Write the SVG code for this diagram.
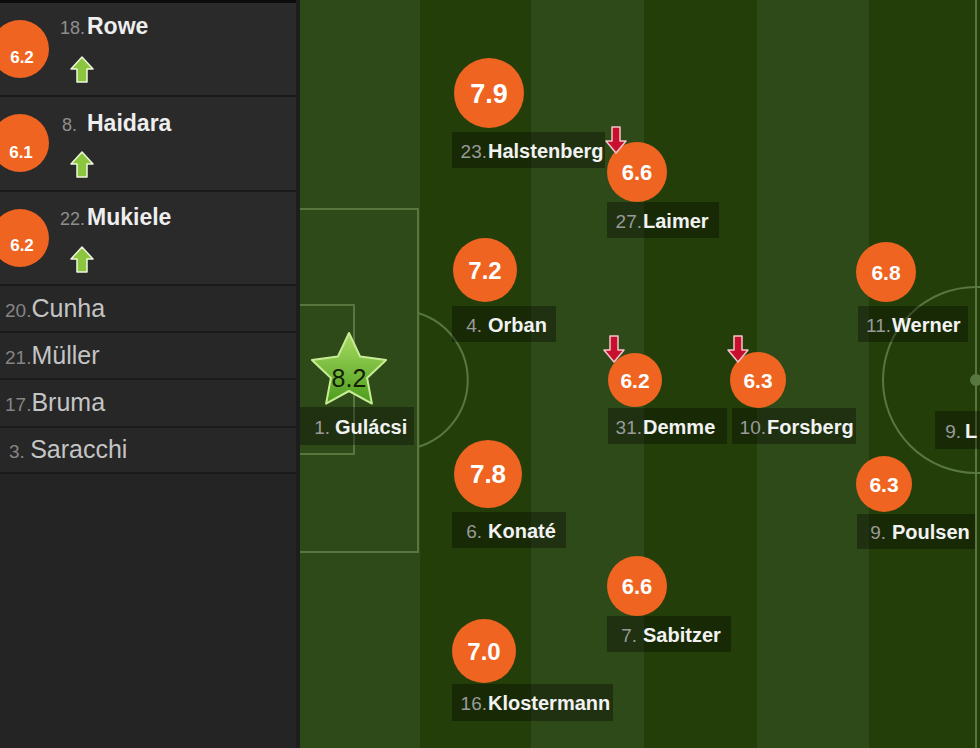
<svg xmlns="http://www.w3.org/2000/svg" width="980" height="748" viewBox="0 0 980 748">
<defs>
<style>
.lt{fill:#2f4a19}
.dk{fill:#243e0a}
.ln{fill:none;stroke:#58773f;stroke-width:2}
.rt{fill:#ee6420}
.rtx{font-family:"Liberation Sans",Arial,sans-serif;font-weight:bold;fill:#fff;text-anchor:middle}
.box{fill:#000;fill-opacity:0.33}
.num{font-family:"Liberation Sans",Arial,sans-serif;font-size:19px;fill:#9a9a9a;text-anchor:end}
.nm{font-family:"Liberation Sans",Arial,sans-serif;font-size:20px;font-weight:bold;fill:#f2f2f2}
.snum{font-family:"Liberation Sans",Arial,sans-serif;font-size:18px;fill:#8e8e8e;text-anchor:end}
.snm{font-family:"Liberation Sans",Arial,sans-serif;font-size:23px;font-weight:bold;fill:#eeeeee}
.bnum{font-family:"Liberation Sans",Arial,sans-serif;font-size:19px;fill:#858585}
.bnm{font-family:"Liberation Sans",Arial,sans-serif;font-size:25px;fill:#c4c4c4}
.sep{stroke:#1a1a1a;stroke-width:2}
.up{fill:#8cc63f;stroke:#eef7dd;stroke-width:1.5;stroke-linejoin:round}
.down{fill:#c8102e;stroke:#f3c6cc;stroke-width:1.5;stroke-linejoin:round}
</style>
<linearGradient id="starg" x1="0" y1="0" x2="0" y2="1">
<stop offset="0" stop-color="#a8dc62"/>
<stop offset="1" stop-color="#4c9c1c"/>
</linearGradient>
<path id="uparrow" d="M0,-13 L11,-1 L5,-1 L5,12 L-5,12 L-5,-1 L-11,-1 Z"/>
<path id="downarrow" d="M0,13 L10,1 L4,1 L4,-13 L-4,-13 L-4,1 L-10,1 Z"/>
</defs>

<!-- left panel -->
<g id="panel">
<rect x="0" y="0" width="300" height="748" fill="#242424"/>
<rect x="0" y="0" width="298" height="285" fill="#2a2a2a"/>
<rect x="0" y="285" width="298" height="188" fill="#272727"/>
<rect x="0" y="0" width="298" height="3" fill="#0c0c0c"/>
<line class="sep" x1="0" y1="96" x2="298" y2="96"/>
<line class="sep" x1="0" y1="191" x2="298" y2="191"/>
<line class="sep" x1="0" y1="285" x2="298" y2="285"/>
<line class="sep" x1="0" y1="332" x2="298" y2="332"/>
<line class="sep" x1="0" y1="379" x2="298" y2="379"/>
<line class="sep" x1="0" y1="427" x2="298" y2="427"/>
<line class="sep" x1="0" y1="473" x2="298" y2="473"/>
</g>

<g id="sub-rowe">
<circle class="rt" cx="20" cy="49" r="29"/>
<text class="rtx" x="22" y="63" font-size="17">6.2</text>
<text class="snum" x="85" y="34">18.</text>
<text class="snm" x="87" y="34">Rowe</text>
<use href="#uparrow" class="up" x="82" y="70"/>
</g>
<g id="sub-haidara">
<circle class="rt" cx="20" cy="143" r="29"/>
<text class="rtx" x="21" y="158" font-size="17">6.1</text>
<text class="snum" x="77" y="131">8.</text>
<text class="snm" x="87" y="131">Haidara</text>
<use href="#uparrow" class="up" x="82" y="165"/>
</g>
<g id="sub-mukiele">
<circle class="rt" cx="20" cy="238" r="29"/>
<text class="rtx" x="22" y="251" font-size="17">6.2</text>
<text class="snum" x="85" y="225">22.</text>
<text class="snm" x="87" y="225">Mukiele</text>
<use href="#uparrow" class="up" x="82" y="260"/>
</g>
<g id="bench-cunha"><text x="5" y="317"><tspan class="bnum">20.</tspan><tspan class="bnm">Cunha</tspan></text></g>
<g id="bench-muller"><text x="5" y="364"><tspan class="bnum">21.</tspan><tspan class="bnm">Müller</tspan></text></g>
<g id="bench-bruma"><text x="5" y="411"><tspan class="bnum">17.</tspan><tspan class="bnm">Bruma</tspan></text></g>
<g id="bench-saracchi"><text x="9" y="458"><tspan class="bnum">3. </tspan><tspan class="bnm">Saracchi</tspan></text></g>

<!-- pitch -->
<g id="pitch">
<rect class="lt" x="300" y="0" width="120" height="748"/>
<rect class="dk" x="420" y="0" width="111" height="748"/>
<rect class="lt" x="531" y="0" width="113" height="748"/>
<rect class="dk" x="644" y="0" width="113" height="748"/>
<rect class="lt" x="757" y="0" width="112" height="748"/>
<rect class="dk" x="869" y="0" width="111" height="748"/>
<path class="ln" d="M300,209 H418 V552 H300"/>
<path class="ln" d="M300,305 H354 V454 H300"/>
<path class="ln" d="M418,313 A70,70 0 0 1 418,447"/>
<line class="ln" x1="976" y1="0" x2="976" y2="748"/>
<circle class="ln" cx="976" cy="380" r="93"/>
<circle cx="976" cy="380" r="6" fill="#58773f"/>
<rect x="296" y="0" width="4" height="748" fill="#1d1d1d"/>
</g>

<g id="p-gulacsi">
<path d="M349,333 L360.2,356.6 L386.1,360 L367.1,377.9 L371.9,403.6 L349,391 L326.1,403.6 L330.9,377.9 L311.9,360 L337.8,356.6 Z" fill="url(#starg)" stroke="#c6ec96" stroke-width="2" stroke-linejoin="round"/>
<text x="349" y="387" font-family="Liberation Sans,Arial,sans-serif" font-size="25" fill="#132006" text-anchor="middle">8.2</text>
<rect class="box" x="300" y="407" width="114" height="38"/>
<text class="num" x="330" y="434">1.</text>
<text class="nm" x="335" y="434">Gulácsi</text>
</g>

<g id="p-halstenberg">
<circle class="rt" cx="489" cy="93" r="35"/>
<text class="rtx" x="489" y="103" font-size="27">7.9</text>
<rect class="box" x="452" y="132" width="153" height="36"/>
<text class="num" x="487" y="158">23.</text>
<text class="nm" x="488" y="158">Halstenberg</text>
</g>

<g id="p-laimer">
<circle class="rt" cx="637" cy="172" r="30"/>
<text class="rtx" x="637" y="180" font-size="22">6.6</text>
<rect class="box" x="607" y="202" width="112" height="36"/>
<text class="num" x="642" y="228">27.</text>
<text class="nm" x="643" y="228">Laimer</text>
<use href="#downarrow" class="down" x="616" y="140"/>
</g>

<g id="p-orban">
<circle class="rt" cx="485" cy="270" r="32"/>
<text class="rtx" x="485" y="279" font-size="24">7.2</text>
<rect class="box" x="452" y="306" width="104" height="36"/>
<text class="num" x="482" y="332">4.</text>
<text class="nm" x="488" y="332">Orban</text>
</g>

<g id="p-konate">
<circle class="rt" cx="488" cy="474" r="34"/>
<text class="rtx" x="488" y="483" font-size="26">7.8</text>
<rect class="box" x="452" y="512" width="114" height="36"/>
<text class="num" x="482" y="538">6.</text>
<text class="nm" x="488" y="538">Konaté</text>
</g>

<g id="p-klostermann">
<circle class="rt" cx="484" cy="651" r="32"/>
<text class="rtx" x="484" y="660" font-size="24">7.0</text>
<rect class="box" x="452" y="684" width="161" height="37"/>
<text class="num" x="487" y="710">16.</text>
<text class="nm" x="488" y="710">Klostermann</text>
</g>

<g id="p-demme">
<circle class="rt" cx="635" cy="380" r="27"/>
<text class="rtx" x="635" y="388" font-size="21">6.2</text>
<rect class="box" x="608" y="408" width="119" height="36"/>
<text class="num" x="642" y="434">31.</text>
<text class="nm" x="643" y="434">Demme</text>
<use href="#downarrow" class="down" x="614" y="349"/>
</g>

<g id="p-forsberg">
<circle class="rt" cx="758" cy="380" r="28"/>
<text class="rtx" x="758" y="388" font-size="21">6.3</text>
<rect class="box" x="732" y="408" width="124" height="36"/>
<text class="num" x="766" y="434">10.</text>
<text class="nm" x="767" y="434">Forsberg</text>
<use href="#downarrow" class="down" x="738" y="349"/>
</g>

<g id="p-sabitzer">
<circle class="rt" cx="637" cy="586" r="30"/>
<text class="rtx" x="637" y="594" font-size="22">6.6</text>
<rect class="box" x="607" y="616" width="124" height="36"/>
<text class="num" x="637" y="642">7.</text>
<text class="nm" x="643" y="642">Sabitzer</text>
</g>

<g id="p-werner">
<circle class="rt" cx="886" cy="272" r="30"/>
<text class="rtx" x="886" y="280" font-size="21">6.8</text>
<rect class="box" x="858" y="306" width="110" height="36"/>
<text class="num" x="891" y="332">11.</text>
<text class="nm" x="892" y="332">Werner</text>
</g>

<g id="p-poulsen">
<circle class="rt" cx="884" cy="484" r="28"/>
<text class="rtx" x="884" y="492" font-size="21">6.3</text>
<rect class="box" x="857" y="514" width="118" height="35"/>
<text class="num" x="886" y="539">9.</text>
<text class="nm" x="892" y="539">Poulsen</text>
</g>

<g id="p-l">
<rect class="box" x="935" y="411" width="50" height="38"/>
<text class="num" x="961" y="438">9.</text>
<text class="nm" x="965" y="438">L</text>
</g>
</svg>
